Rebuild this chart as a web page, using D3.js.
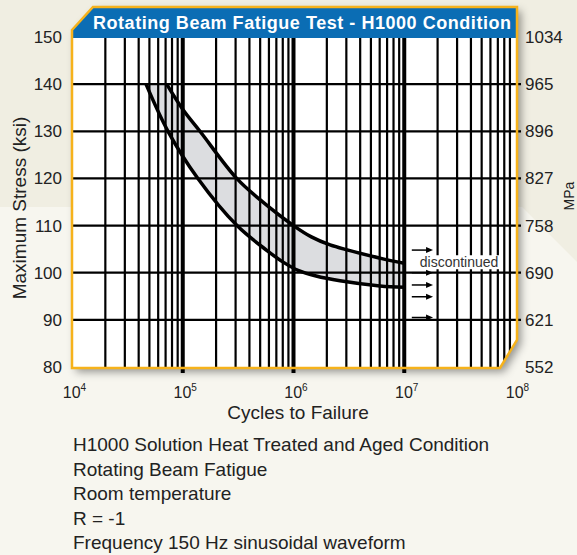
<!DOCTYPE html>
<html>
<head>
<meta charset="utf-8">
<script src="https://cdn.jsdelivr.net/npm/d3@7"></script>
<style>
  body { margin: 0; background: #f7f6ef; }
  svg { display: block; }
  text { font-family: "Liberation Sans", Arial, Helvetica, sans-serif; }
</style>
</head>
<body>
<svg id="chart" width="577" height="555"></svg>
<script>
// band limits (cycles, ksi)
const upperCycles = [71600, 101000, 143000, 307000, 498000, 1000000, 1450000, 2140000, 6030000, 10000000];
const upperKsi    = [140,   134.5,  130,    120,    115.5,  110,     107.6,   105.9,   103.1,   102];
const lowerCycles = [46600, 73600, 137000, 309000, 577000, 800000, 1100000, 1600000, 2630000, 6030000, 10000000];
const lowerKsi    = [140,   130,   120,    110,    104.7,  102.3,  100.5,   99.3,    98.3,    97.2,    96.9];

// run-out arrows ("discontinued")
const runoutKsi = [104.8, 100, 97.4, 94.9, 90.5];
const runoutCycles = [11700000, 18200000];
const runoutLabel = "discontinued";
const runoutLabelAt = [13800000, 102.2];

const ksiTicks = [80, 90, 100, 110, 120, 130, 140, 150];
const mpaLabels = ["552", "621", "690", "758", "827", "896", "965", "1034"];
const decadeExps = [4, 5, 6, 7, 8];

const title = "Rotating Beam Fatigue Test - H1000 Condition";
const xTitle = "Cycles to Failure";
const yTitle = "Maximum Stress (ksi)";
const y2Title = "MPa";
const notes = [
  "H1000 Solution Heat Treated and Aged Condition",
  "Rotating Beam Fatigue",
  "Room temperature",
  "R = -1",
  "Frequency 150 Hz sinusoidal waveform"
];

const W = 577, H = 555;
const box = {l: 72, r: 517, t: 7, b: 368, bannerB: 38};
const ink = "#222";

const svg = d3.select("#chart");

const x = d3.scaleLog().domain([1e4, 1e8]).range([72, 515]);
const y = d3.scaleLinear().domain([80, 150]).range([367, 37]);

const defs = svg.append("defs");
const shadow = defs.append("filter").attr("id", "shadow")
  .attr("x", "-10%").attr("y", "-10%").attr("width", "130%").attr("height", "130%");
shadow.append("feDropShadow")
  .attr("dx", 4).attr("dy", 4).attr("stdDeviation", 4)
  .attr("flood-color", "#000").attr("flood-opacity", 0.4);

const boxPts = [[box.l, 30], [93, box.t], [box.r, box.t], [box.r, 340], [500, box.b], [box.l, box.b]];
defs.append("clipPath").attr("id", "plotClip")
  .append("polygon").attr("points", boxPts.join(" "));

// background
svg.append("rect").attr("width", W).attr("height", H).attr("fill", "#f0eee2");
svg.append("polygon").attr("points", "0,207 522,207 577,262 577,555 0,555").attr("fill", "#f7f6ef");

// white plot box with drop shadow
svg.append("polygon")
  .attr("points", boxPts.join(" "))
  .attr("fill", "#fff")
  .attr("filter", "url(#shadow)");

// scatter band
const upper = upperCycles.map((c, i) => [c, upperKsi[i]]);
const lower = lowerCycles.map((c, i) => [c, lowerKsi[i]]);

const line = d3.line()
  .x(d => x(d[0]))
  .y(d => y(d[1]))
  .curve(d3.curveCatmullRom.alpha(0.5));

const bandPath = line(upper) + "L" + line(lower.slice().reverse()).slice(1) + "Z";
svg.append("path")
  .attr("d", bandPath)
  .attr("fill", "#dcdde0");

// grid
const minor = [];
decadeExps.slice(0, -1).forEach(p => {
  for (let n = 2; n <= 9; n++) minor.push(n * Math.pow(10, p));
});
const grid = svg.append("g").attr("clip-path", "url(#plotClip)");
grid.selectAll(".minor")
  .data(minor)
  .join("line")
  .attr("class", "minor")
  .attr("x1", d => x(d)).attr("x2", d => x(d))
  .attr("y1", y(150)).attr("y2", y(80))
  .attr("stroke", "#000")
  .attr("stroke-width", 2.2);

const majors = decadeExps.slice(1, -1).map(p => Math.pow(10, p));
svg.selectAll(".major")
  .data(majors)
  .join("line")
  .attr("class", "major")
  .attr("x1", d => x(d)).attr("x2", d => x(d))
  .attr("y1", y(150)).attr("y2", y(80) + 6)
  .attr("stroke", "#000")
  .attr("stroke-width", 4);

svg.selectAll(".hline")
  .data(ksiTicks.filter(d => d > 80 && d < 150))
  .join("line")
  .attr("class", "hline")
  .attr("x1", box.l).attr("x2", box.r + 4)
  .attr("y1", d => y(d)).attr("y2", d => y(d))
  .attr("stroke", "#000")
  .attr("stroke-width", 2.2);

// band edges
[upper, lower].forEach(pts => {
  svg.append("path")
    .attr("d", line(pts))
    .attr("fill", "none")
    .attr("stroke", "#000")
    .attr("stroke-width", 3.5);
});

// run-out arrows
const arrows = svg.append("g");
runoutKsi.forEach(k => {
  const x0 = x(runoutCycles[0]), x1 = x(runoutCycles[1]), yy = y(k);
  arrows.append("line")
    .attr("x1", x0).attr("x2", x1 - 6)
    .attr("y1", yy).attr("y2", yy)
    .attr("stroke", "#000").attr("stroke-width", 1.5);
  arrows.append("path")
    .attr("d", `M${x1},${yy}L${x1 - 7},${yy - 3}L${x1 - 7},${yy + 3}Z`)
    .attr("fill", "#000");
});

const lbl = svg.append("g");
const lblRect = lbl.append("rect").attr("fill", "#fff");
const lblText = lbl.append("text")
  .attr("x", x(runoutLabelAt[0]))
  .attr("y", y(runoutLabelAt[1]))
  .attr("dy", "0.35em")
  .attr("font-size", 14)
  .attr("fill", "#333")
  .text(runoutLabel);
const bb = lblText.node().getBBox();
lblRect.attr("x", bb.x - 2).attr("y", bb.y + 1).attr("width", bb.width + 4).attr("height", bb.height - 2);

// title banner
svg.append("polygon")
  .attr("points", [[box.l, 30], [93, box.t], [box.r, box.t], [box.r, box.bannerB], [box.l, box.bannerB]].join(" "))
  .attr("fill", "#0b6db4");
svg.append("text")
  .attr("x", 93).attr("y", 28.5)
  .attr("font-size", 18)
  .attr("font-weight", "bold")
  .attr("fill", "#fff")
  .attr("textLength", 418)
  .attr("lengthAdjust", "spacing")
  .text(title);

// yellow outline
svg.append("polygon")
  .attr("points", boxPts.join(" "))
  .attr("fill", "none")
  .attr("stroke", "#f6b21b")
  .attr("stroke-width", 2.5);

// axes
const styleAxis = g => {
  g.select(".domain").remove();
  g.attr("font-size", 17)
    .attr("font-family", "'Liberation Sans', Arial, Helvetica, sans-serif")
    .attr("color", ink);
};

svg.append("g")
  .attr("transform", `translate(${box.l},0)`)
  .call(d3.axisLeft(y).tickValues(ksiTicks).tickSize(0).tickPadding(10))
  .call(styleAxis);

svg.append("g")
  .attr("transform", `translate(${box.r},0)`)
  .call(d3.axisRight(y).tickValues(ksiTicks).tickSize(0).tickPadding(8)
    .tickFormat((d, i) => mpaLabels[i]))
  .call(styleAxis);

const xAxis = svg.append("g")
  .attr("transform", `translate(0,${y(80)})`)
  .call(d3.axisBottom(x).tickValues(decadeExps.map(p => Math.pow(10, p)))
    .tickSize(0).tickPadding(19.5).tickFormat(() => ""))
  .call(styleAxis)
  .attr("font-size", 16);
xAxis.selectAll(".tick text").each(function(d) {
  const t = d3.select(this).attr("dx", 2);
  t.append("tspan").text("10");
  t.append("tspan").attr("dy", -7).attr("font-size", 10).text(Math.round(Math.log10(d)));
});

svg.append("text")
  .attr("x", 298).attr("y", 419)
  .attr("text-anchor", "middle")
  .attr("font-size", 19)
  .attr("fill", ink)
  .text(xTitle);

svg.append("text")
  .attr("transform", "translate(26,208) rotate(-90)")
  .attr("text-anchor", "middle")
  .attr("font-size", 19)
  .attr("fill", ink)
  .text(yTitle);

svg.append("text")
  .attr("transform", "translate(574,196) rotate(-90)")
  .attr("text-anchor", "middle")
  .attr("font-size", 14)
  .attr("fill", ink)
  .text(y2Title);

// notes under the chart
svg.append("g").selectAll("text")
  .data(notes)
  .join("text")
  .attr("x", 73)
  .attr("y", (d, i) => 451 + i * 24.5)
  .attr("font-size", 19)
  .attr("fill", ink)
  .text(d => d);
</script>
</body>
</html>
